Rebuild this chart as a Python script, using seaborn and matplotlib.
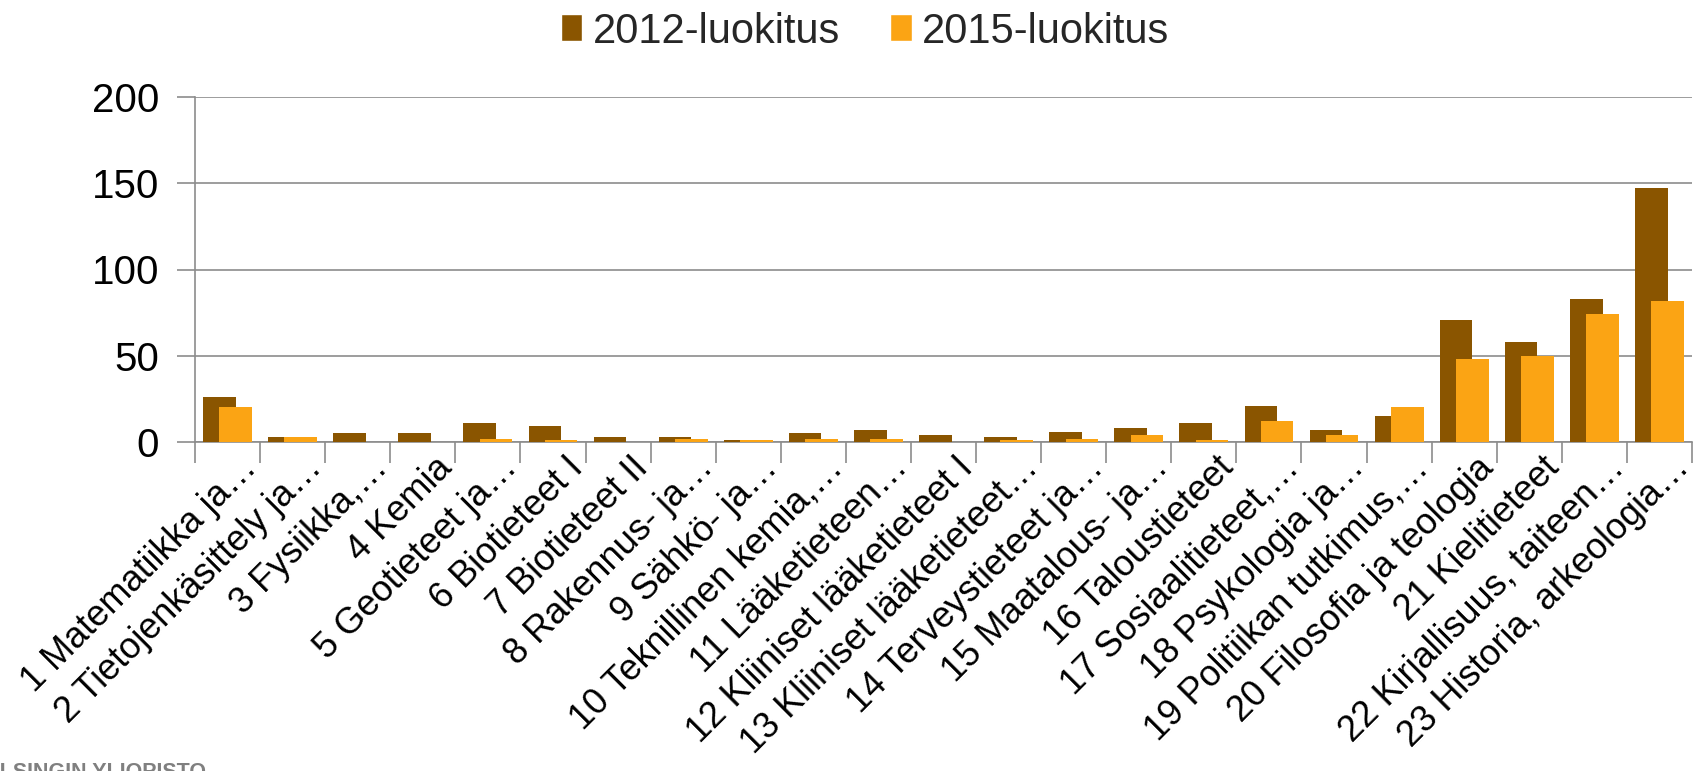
import pandas as pd
import matplotlib.pyplot as plt
import matplotlib.transforms as mtransforms
import seaborn as sns

sns.set_theme(style="white")
plt.rcParams['font.family'] = ['Liberation Sans', 'DejaVu Sans']

# data
categories = [
    "1 Matematiikka ja…", "2 Tietojenkäsittely ja…", "3 Fysiikka,…", "4 Kemia",
    "5 Geotieteet ja…", "6 Biotieteet I", "7 Biotieteet II", "8 Rakennus- ja…",
    "9 Sähkö- ja…", "10 Teknillinen kemia,…", "11 Lääketieteen…",
    "12 Kliiniset lääketieteet I", "13 Kliiniset lääketieteet…",
    "14 Terveystieteet ja…", "15 Maatalous- ja…", "16 Taloustieteet",
    "17 Sosiaalitieteet,…", "18 Psykologia ja…", "19 Politiikan tutkimus,…",
    "20 Filosofia ja teologia", "21 Kielitieteet", "22 Kirjallisuus, taiteen…",
    "23 Historia, arkeologia…",
]
vals_2012 = [26, 3, 5, 5, 11, 9, 3, 3, 1, 5, 7, 4, 3, 6, 8, 11, 21, 7, 15, 71, 58, 83, 147]
vals_2015 = [20, 3, 0, 0, 2, 1, 0, 2, 1, 2, 2, 0, 1, 2, 4, 1, 12, 4, 20, 48, 50, 74, 82]
series = ["2012-luokitus", "2015-luokitus"]
colors = ["#8A5500", "#FBA414"]

df = pd.DataFrame({
    "ala": categories * 2,
    "luokitus": [series[0]] * len(categories) + [series[1]] * len(categories),
    "arvo": vals_2012 + vals_2015,
})

fig = plt.figure(figsize=(16.99, 7.71), dpi=100)
ax = fig.add_axes([195 / 1699, 1 - 442 / 771, 1497 / 1699, 345 / 771])

sns.barplot(data=df, x="ala", y="arvo", hue="luokitus", palette=colors,
            width=1.0, saturation=1, errorbar=None, ax=ax, zorder=3)

# excel style overlap: pull the two bars of each group together
n = len(categories)
for i, p in enumerate(ax.patches[:2 * n]):
    shift = 0.125 if i < n else -0.125
    p.set_x(p.get_x() + shift)
    p.set_linewidth(0)

ax.set_ylim(0, 200)
ax.set_xlim(-0.5, n - 0.5)
ax.set_yticks([0, 50, 100, 150, 200])
ax.yaxis.grid(True, color="#8C8C8C", linewidth=1.2, zorder=0)
ax.set_axisbelow(True)
ax.set_xlabel("")
ax.set_ylabel("")

for s in ["top", "right"]:
    ax.spines[s].set_visible(False)
for s in ["left", "bottom"]:
    ax.spines[s].set_color("#8C8C8C")
    ax.spines[s].set_linewidth(1.2)

ax.tick_params(axis="y", left=True, length=13, width=1.2, color="#8C8C8C",
               pad=13, labelsize=29, labelcolor="black")
ax.set_xticks(range(n))
ax.set_xticks([x - 0.5 for x in range(n + 1)], minor=True)
ax.tick_params(axis="x", which="major", length=0, pad=6)
ax.tick_params(axis="x", which="minor", bottom=True, length=15, width=1.2, color="#8C8C8C")
ax.set_xticklabels(categories, rotation=45, ha="right", rotation_mode="anchor",
                   fontsize=26, color="black")
offset = mtransforms.ScaledTranslation(0.12, 0, fig.dpi_scale_trans)
for lbl in ax.get_xticklabels():
    lbl.set_transform(lbl.get_transform() + offset)

ax.legend(loc="upper center", bbox_to_anchor=(865 / 1699, 1.012),
          bbox_transform=fig.transFigure, ncol=2, frameon=False, fontsize=30,
          handlelength=0.52, handleheight=0.62, handletextpad=0.25,
          columnspacing=1.2, borderaxespad=0.1)

# university logo text, cut off at the corner like in the original slide
fig.text(-30 / 1699, 1 - 762 / 771, "HELSINGIN YLIOPISTO", ha="left", va="top",
         fontsize=15.5, fontweight="bold", color="#808080")

fig.savefig("out.png", dpi=100)
